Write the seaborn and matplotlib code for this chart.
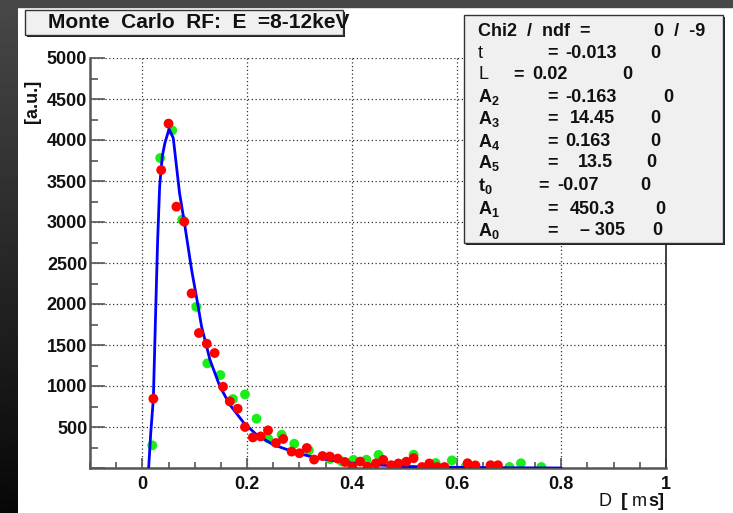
"""Monte Carlo RF fit (E = 8-12 keV): two MC sample sets and the fitted curve,
drawn with the ROOT-canvas look (title pave, fit-parameter box, inward ticks).
"""

from __future__ import annotations

import matplotlib

matplotlib.use("Agg")
import matplotlib.pyplot as plt
import numpy as np
import seaborn as sns
from matplotlib.patches import Rectangle
from matplotlib.ticker import MultipleLocator, NullFormatter

W, H = 733, 513  # output size in pixels (dpi 100)

# ---- data ----
RED_X = [0.021, 0.036, 0.050, 0.065, 0.080, 0.094, 0.108, 0.123, 0.138, 0.154,
         0.167, 0.182, 0.196, 0.211, 0.226, 0.240, 0.255, 0.269, 0.285, 0.300,
         0.314, 0.328, 0.344, 0.358, 0.373, 0.387, 0.401, 0.416, 0.430, 0.446,
         0.460, 0.475, 0.489, 0.504, 0.518, 0.534, 0.548, 0.563, 0.577, 0.621,
         0.636, 0.665, 0.679]
RED_Y = [845, 3634, 4200, 3187, 3004, 2129, 1646, 1516, 1402, 991,
         812, 723, 500, 373, 385, 459, 305, 354, 200, 180,
         244, 103, 146, 140, 115, 73, 14, 78, 14, 56,
         99, 34, 55, 77, 120, 12, 55, 12, 12, 58,
         32, 34, 34]

GREEN_X = [0.019, 0.034, 0.057, 0.076, 0.103, 0.124, 0.149, 0.173, 0.196, 0.218,
           0.240, 0.266, 0.290, 0.318, 0.358, 0.381, 0.403, 0.428, 0.451, 0.485,
           0.518, 0.560, 0.591, 0.617, 0.630, 0.701, 0.723, 0.762]
GREEN_Y = [276, 3780, 4117, 3028, 1965, 1276, 1134, 841, 898, 601,
           361, 406, 296, 215, 110, 80, 99, 101, 160, 32,
           162, 61, 93, 12, 12, 12, 58, 12]

FIT_X = [0.012, 0.016, 0.021, 0.0255, 0.029, 0.033, 0.038, 0.043, 0.051, 0.059,
         0.071, 0.080, 0.094, 0.106, 0.113, 0.129, 0.148, 0.167, 0.193, 0.218,
         0.250, 0.295, 0.333, 0.397, 0.492, 0.601, 0.700, 0.800]
FIT_Y = [0, 427, 845, 1930, 2744, 3434, 3800, 3963, 4134, 4024,
         3353, 3004, 2418, 1990, 1727, 1321, 995, 772, 556, 406,
         284, 183, 122, 61, 20, 8, 3, 0]

TITLE = "Monte  Carlo  RF:  E  =8-12keV"
Y_LABEL = "[a.u.]"

CHI2_LABEL = "Chi2  /  ndf  ="
CHI2_VALUE = "0  /  -9"
PAR_NAMES = ["t", "L", "A$_2$", "A$_3$", "A$_4$", "A$_5$", "t$_0$", "A$_1$", "A$_0$"]
PAR_VALUES = ["-0.013", "0.02", "-0.163", "14.45", "0.163", "13.5", "-0.07", "450.3", "\u2013 305"]
PAR_ERRORS = ["0", "0", "0", "0", "0", "0", "0", "0", "0"]
PAR_BOLD = [False, False, True, True, True, True, True, True, True]

# ---- layout (pixel positions in the 733x513 canvas) ----
AX_LEFT, AX_RIGHT, AX_TOP, AX_BOTTOM = 90, 666, 58, 468
ROW_Y = [53, 75, 97, 119, 142, 163, 186, 209, 231]
EQ_X = [547, 513, 547, 547, 547, 547, 538, 547, 547]
VAL_X = [565, 532, 565, 570, 565, 578, 557, 570, 580]
ERR_X = [650, 622, 663, 650, 650, 646, 640, 655, 652]
BOX_FS = 13

INK = "#111111"
FRAME = "#555555"
PAVE = "#f0f0f0"


def fx(px: float) -> float:
    return px / W


def fy(py: float) -> float:
    return 1 - py / H


def _style() -> None:
    sns.set_style("ticks")
    plt.rcParams.update({
        "font.family": ["Liberation Sans", "DejaVu Sans"],
        "font.weight": "bold",
        "mathtext.fontset": "custom",
        "mathtext.rm": "Liberation Sans:bold",
        "mathtext.bf": "Liberation Sans:bold",
        "mathtext.default": "bf",
        "text.color": INK,
    })


def _backdrop(fig) -> None:
    # dark slide border around the white canvas: flat band on top, grey->black on the left
    fig.add_artist(Rectangle((0, fy(7)), 1, 7 / H, transform=fig.transFigure,
                             color="#474747", zorder=-5))
    gax = fig.add_axes([0, 0, fx(18), fy(7)], zorder=-5)
    gax.imshow(np.linspace(0.28, 0.03, 256)[:, None], cmap="gray",
               vmin=0, vmax=1, aspect="auto")
    gax.axis("off")


def _pave(fig, x0, y0, x1, y1) -> None:
    """ROOT-style pave: light fill, thin border, dark shadow bottom/right."""
    fig.add_artist(Rectangle((fx(x0 + 2), fy(y1 + 2)), fx(x1 - x0), (y1 - y0) / H,
                             transform=fig.transFigure, facecolor="#222222",
                             edgecolor="none", zorder=4))
    fig.add_artist(Rectangle((fx(x0), fy(y1)), fx(x1 - x0), (y1 - y0) / H,
                             transform=fig.transFigure, facecolor=PAVE,
                             edgecolor="#333333", linewidth=1.0, zorder=5))


def render(out: str = "out.png") -> None:
    _style()
    fig = plt.figure(figsize=(W / 100, H / 100), dpi=100)
    fig.patch.set_facecolor("white")
    _backdrop(fig)

    ax = fig.add_axes([fx(AX_LEFT), fy(AX_BOTTOM), fx(AX_RIGHT - AX_LEFT),
                       (AX_BOTTOM - AX_TOP) / H])
    sns.scatterplot(x=GREEN_X, y=GREEN_Y, ax=ax, color="#19ee19", s=50,
                    edgecolor="none", zorder=3)
    sns.lineplot(x=FIT_X, y=FIT_Y, ax=ax, color="#0000ff", linewidth=2,
                 sort=False, estimator=None, zorder=4)
    sns.scatterplot(x=RED_X, y=RED_Y, ax=ax, color="#ff0000", s=50,
                    edgecolor="none", zorder=5)

    ax.set_xlim(-0.1, 1.0)
    ax.set_ylim(0, 5000)
    ax.xaxis.set_major_locator(MultipleLocator(0.2))
    ax.xaxis.set_minor_locator(MultipleLocator(0.05))
    ax.yaxis.set_major_locator(MultipleLocator(500))
    ax.yaxis.set_minor_locator(MultipleLocator(250))
    ax.set_xticks([0, 0.2, 0.4, 0.6, 0.8, 1.0], ["0", "0.2", "0.4", "0.6", "0.8", "1"])
    yt = list(range(0, 5001, 500))
    ax.set_yticks(yt, [""] + [str(v) for v in yt[1:]])
    ax.xaxis.set_minor_formatter(NullFormatter())
    ax.set_xlabel("")
    ax.set_ylabel("")

    ax.grid(True, which="major", color="#333333", linestyle=(0, (1, 2)), linewidth=0.9)
    ax.set_axisbelow(True)
    ax.tick_params(axis="both", which="both", direction="in", color=FRAME,
                   labelsize=13, labelcolor=INK)
    ax.tick_params(axis="y", which="major", length=11, width=1.2, pad=2)
    ax.tick_params(axis="y", which="minor", length=6, width=1.2)
    ax.tick_params(axis="x", which="major", length=7, width=1.2, pad=6)
    ax.tick_params(axis="x", which="minor", length=4.5, width=1.2)
    for lab in ax.get_xticklabels() + ax.get_yticklabels():
        lab.set_fontweight("bold")

    ax.spines["top"].set_visible(False)
    ax.spines["left"].set_color(FRAME)
    ax.spines["left"].set_linewidth(1.8)
    ax.spines["bottom"].set_color(FRAME)
    ax.spines["bottom"].set_linewidth(1.8)
    ax.spines["right"].set_color("#333333")
    ax.spines["right"].set_linewidth(1.3)

    # axis titles
    fig.text(fx(32), fy(80), Y_LABEL, rotation=90, ha="center", va="top",
             fontsize=13, fontweight="bold")
    fig.text(fx(598), fy(502), "D", ha="left", va="center", fontsize=13,
             fontweight="normal")
    fig.text(fx(621), fy(502), "[", ha="left", va="center", fontsize=14,
             fontweight="bold")
    fig.text(fx(632), fy(502), "m", ha="left", va="center", fontsize=13,
             fontweight="normal")
    fig.text(fx(648), fy(502), "s]", ha="left", va="center", fontsize=13,
             fontweight="bold")

    # title pave
    _pave(fig, 25, 10, 343, 35)
    fig.text(fx(48), fy(23), TITLE, ha="left", va="center", fontsize=15,
             fontweight="bold", zorder=6)

    # fit-parameter pave
    _pave(fig, 464, 15, 723, 243)
    fig.text(fx(478), fy(32), CHI2_LABEL, ha="left", va="center", fontsize=BOX_FS,
             fontweight="bold", zorder=6)
    fig.text(fx(654), fy(32), CHI2_VALUE, ha="left", va="center", fontsize=BOX_FS,
             fontweight="bold", zorder=6)
    for i, name in enumerate(PAR_NAMES):
        y = fy(ROW_Y[i])
        fig.text(fx(478), y, name, ha="left", va="center", fontsize=BOX_FS,
                 fontweight="bold" if PAR_BOLD[i] else "normal", zorder=6)
        fig.text(fx(EQ_X[i]), y, "=", ha="left", va="center", fontsize=BOX_FS,
                 fontweight="bold", zorder=6)
        fig.text(fx(VAL_X[i]), y, PAR_VALUES[i], ha="left", va="center",
                 fontsize=BOX_FS, fontweight="bold", zorder=6)
        fig.text(fx(ERR_X[i]), y, PAR_ERRORS[i], ha="left", va="center",
                 fontsize=BOX_FS, fontweight="bold", zorder=6)

    fig.savefig(out, dpi=100)
    plt.close(fig)


def main() -> None:
    render("out.png")


if __name__ == "__main__":
    main()
